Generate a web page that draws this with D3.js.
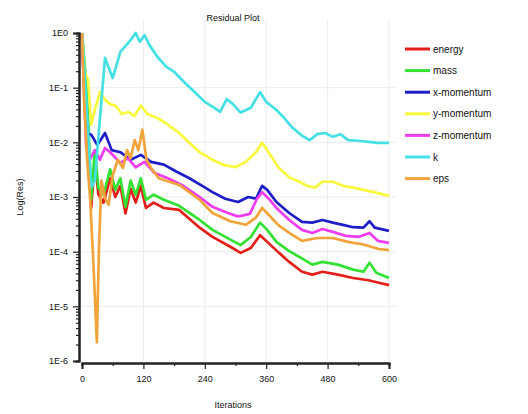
<!DOCTYPE html>
<html>
<head>
<meta charset="utf-8">
<script src="https://cdn.jsdelivr.net/npm/d3@7"></script>
<style>
  body { margin: 0; background: #fff; }
  text { font-family: "Liberation Sans", Arial, sans-serif; }
</style>
</head>
<body>
<svg id="canvas"></svg>
<script>
// residuals: [iteration, value]
let energy = [[0,1],[6,1e-1],[12,1e-2],[18,6.3e-4],[25,5e-3],[32,1.12e-3],[42,7.9e-4],[55,2.2e-3],[65,1e-3],[75,1.6e-3],[85,5e-4],[95,1.41e-3],[105,7.9e-4],[115,1.6e-3],[125,6.3e-4],[140,7.9e-4],[160,6.3e-4],[190,5.8e-4],[230,2.75e-4],[255,1.86e-4],[290,1.23e-4],[310,9.5e-5],[330,1.17e-4],[348,2e-4],[362,1.51e-4],[385,9.5e-5],[405,6.5e-5],[430,4.3e-5],[450,3.8e-5],[470,4.3e-5],[500,3.8e-5],[530,3.3e-5],[560,3e-5],[580,2.7e-5],[600,2.45e-5]]
let mass = [[0,1],[8,1.38e-1],[13,1.7e-2],[18,8.9e-4],[25,7.2e-3],[32,1.48e-3],[42,1.1e-3],[55,3.2e-3],[65,1.35e-3],[75,2.2e-3],[85,6.6e-4],[95,2e-3],[105,1.1e-3],[115,2.2e-3],[125,8.9e-4],[140,1.1e-3],[160,8.9e-4],[190,6.9e-4],[230,3.8e-4],[255,2.5e-4],[290,1.66e-4],[310,1.32e-4],[330,1.86e-4],[348,3.4e-4],[362,2.5e-4],[380,1.51e-4],[405,1.02e-4],[425,8e-5],[450,5.8e-5],[470,6.5e-5],[500,5.8e-5],[530,4.7e-5],[550,4.3e-5],[562,6.3e-5],[575,4.1e-5],[600,3.3e-5]]
let xMomentum = [[0,1],[5,6.3e-2],[10,1.48e-2],[18,1.38e-2],[30,8.9e-3],[45,1.48e-2],[58,7.2e-3],[75,6.6e-3],[95,4.8e-3],[115,5.9e-3],[135,4.4e-3],[160,3.9e-3],[185,2.9e-3],[210,2.2e-3],[235,1.6e-3],[255,1.23e-3],[280,9.3e-4],[305,8.1e-4],[325,1e-3],[340,9.3e-4],[352,1.6e-3],[362,1.35e-3],[380,8.1e-4],[405,5.1e-4],[430,3.5e-4],[450,3.4e-4],[470,3.8e-4],[490,3.4e-4],[510,3.1e-4],[530,2.8e-4],[550,2.75e-4],[562,3.6e-4],[572,2.75e-4],[600,2.4e-4]]
let yMomentum = [[0,1],[5,2e-1],[12,1.38e-1],[18,2.1e-2],[25,3.9e-2],[35,8.3e-2],[45,6e-2],[55,5e-2],[65,4.7e-2],[78,3.3e-2],[90,3.6e-2],[102,3e-2],[115,4.7e-2],[128,3.3e-2],[150,2.7e-2],[165,2.2e-2],[190,1.48e-2],[210,9.8e-3],[230,6.6e-3],[255,4.8e-3],[275,3.9e-3],[300,3.5e-3],[320,4.4e-3],[340,6.6e-3],[352,9.8e-3],[362,7.2e-3],[385,3.4e-3],[405,2.3e-3],[425,1.9e-3],[440,1.6e-3],[455,1.48e-3],[470,1.9e-3],[490,1.9e-3],[510,1.6e-3],[530,1.48e-3],[550,1.35e-3],[575,1.2e-3],[600,1.05e-3]]
let zMomentum = [[0,1],[8,8.9e-3],[15,4.8e-3],[25,7.2e-3],[35,4.8e-3],[45,7.9e-3],[55,6.6e-3],[75,4.2e-3],[90,5.1e-3],[105,3.5e-3],[122,4.4e-3],[142,2.75e-3],[168,2.2e-3],[195,1.66e-3],[230,1e-3],[255,6.6e-4],[285,5.1e-4],[305,4.4e-4],[328,4.9e-4],[342,9.3e-4],[352,1.23e-3],[365,9.3e-4],[380,6.3e-4],[405,3.8e-4],[430,2.5e-4],[450,2.2e-4],[470,2.6e-4],[490,2.3e-4],[515,1.95e-4],[540,1.86e-4],[562,2.2e-4],[578,1.58e-4],[600,1.45e-4]]
let k = [[0,1],[5,2e-1],[18,1.5e-3],[25,2e-3],[45,3.5e-1],[60,1.5e-1],[75,4.5e-1],[95,7.4e-1],[105,1],[113,6.9e-1],[122,9.1e-1],[132,6e-1],[148,3.6e-1],[165,2.4e-1],[180,1.95e-1],[200,1.26e-1],[220,8.3e-2],[240,5.5e-2],[258,4.3e-2],[270,3.6e-2],[283,6.2e-2],[295,5e-2],[310,3.5e-2],[330,4.3e-2],[348,8.3e-2],[360,5.5e-2],[380,3.9e-2],[395,2.8e-2],[410,1.9e-2],[430,1.32e-2],[445,1.1e-2],[460,1.41e-2],[475,1.48e-2],[490,1.26e-2],[505,1.41e-2],[520,1.1e-2],[540,1.07e-2],[560,1.02e-2],[580,9.8e-3],[600,9.8e-3]]
let eps = [[0,1],[4,6e-2],[10,4.8e-3],[16,8.9e-4],[22,7.1e-5],[29,2.2e-6],[33,1.07e-4],[38,2e-3],[45,9.5e-4],[52,7.2e-4],[60,2.5e-3],[70,4.8e-3],[80,3.4e-3],[88,7.2e-3],[95,5.1e-3],[103,1.1e-2],[110,7.2e-3],[118,1.7e-2],[126,4.8e-3],[135,3.4e-3],[150,2.2e-3],[190,1.66e-3],[230,8.9e-4],[255,5.1e-4],[290,3.6e-4],[320,3.1e-4],[340,4.2e-4],[352,6.3e-4],[368,4.4e-4],[385,3e-4],[405,2.2e-4],[430,1.58e-4],[460,1.78e-4],[490,1.78e-4],[520,1.51e-4],[550,1.35e-4],[580,1.12e-4],[600,1.07e-4]]

let seriesNames = ['energy', 'mass', 'x-momentum', 'y-momentum', 'z-momentum', 'k', 'eps']
let seriesData = [energy, mass, xMomentum, yMomentum, zMomentum, k, eps]
let seriesColors = ['#e41f1a', '#33e133', '#1e1ec8', '#f8f83c', '#f03cf0', '#44e0e4', '#f2a43a']

let xTicks = [0, 120, 240, 360, 480, 600]
let xMinorTicks = [60, 180, 300, 420, 540]
let yTicks = [1, 1e-1, 1e-2, 1e-3, 1e-4, 1e-5, 1e-6]
let yTickLabels = ['1E0', '1E-1', '1E-2', '1E-3', '1E-4', '1E-5', '1E-6']

let width = 528
let height = 414

let canvas = d3.select('#canvas')
               .attr('width', width)
               .attr('height', height)

let xScale = d3.scaleLinear()
               .domain([0, 600])
               .range([82, 389])

let yScale = d3.scaleLog()
               .domain([1e-6, 1])
               .range([361, 33])

// faint grid
canvas.append('g')
      .selectAll('line')
      .data(xTicks.slice(1))
      .enter()
      .append('line')
      .attr('x1', (d) => xScale(d))
      .attr('x2', (d) => xScale(d))
      .attr('y1', 20)
      .attr('y2', 361)
      .attr('stroke', '#ececec')

canvas.append('g')
      .selectAll('line')
      .data(yTicks.slice(1, -1))
      .enter()
      .append('line')
      .attr('x1', 82)
      .attr('x2', 396)
      .attr('y1', (d) => yScale(d))
      .attr('y2', (d) => yScale(d))
      .attr('stroke', '#ececec')

let line = d3.line()
             .x((d) => xScale(d[0]))
             .y((d) => yScale(d[1]))

canvas.append('g')
      .selectAll('path')
      .data(seriesData)
      .enter()
      .append('path')
      .attr('d', line)
      .attr('fill', 'none')
      .attr('stroke', (d, i) => seriesColors[i])
      .attr('stroke-width', 2.7)
      .attr('stroke-linejoin', 'round')

// axes
let minorY = []
for (let e = -6; e < 0; e++) {
  for (let m = 2; m <= 9; m++) minorY.push(m * Math.pow(10, e))
}

let yAxis = d3.axisLeft(yScale)
              .tickValues(yTicks)
              .tickSize(6)
              .tickPadding(5)
              .tickFormat((d, i) => yTickLabels[i])

let yMinor = d3.axisLeft(yScale)
               .tickValues(minorY)
               .tickSize(3)
               .tickFormat('')

let xAxis = d3.axisBottom(xScale)
              .tickValues(xTicks)
              .tickSize(6)
              .tickPadding(7)
              .tickFormat(d3.format('d'))

let xMinor = d3.axisBottom(xScale)
               .tickValues(xMinorTicks)
               .tickSize(3)
               .tickFormat('')

canvas.append('g')
      .attr('transform', 'translate(79, 0)')
      .call(yMinor)

canvas.append('g')
      .attr('id', 'y-axis')
      .attr('transform', 'translate(79, 0)')
      .call(yAxis)

canvas.append('g')
      .attr('transform', 'translate(0, 363)')
      .call(xMinor)

canvas.append('g')
      .attr('id', 'x-axis')
      .attr('transform', 'translate(0, 363)')
      .call(xAxis)

canvas.selectAll('.domain')
      .attr('stroke', '#222')
      .attr('stroke-width', 2)
canvas.selectAll('.tick line')
      .attr('stroke', '#222')
      .attr('stroke-width', 1.2)
canvas.selectAll('.tick text')
      .attr('font-size', 9)
      .attr('fill', '#111')
      .style('font-family', '"Liberation Sans", Arial, sans-serif')

// titles
canvas.append('text')
      .attr('x', 233)
      .attr('y', 21)
      .attr('text-anchor', 'middle')
      .attr('font-size', 9)
      .attr('fill', '#111')
      .text('Residual Plot')

canvas.append('text')
      .attr('x', 233)
      .attr('y', 408)
      .attr('text-anchor', 'middle')
      .attr('font-size', 9)
      .attr('fill', '#111')
      .text('Iterations')

canvas.append('text')
      .attr('transform', 'translate(23, 197) rotate(-90)')
      .attr('text-anchor', 'middle')
      .attr('font-size', 9)
      .attr('fill', '#111')
      .text('Log(Res)')

// legend
let legend = canvas.append('g')
                   .selectAll('g')
                   .data(seriesNames)
                   .enter()
                   .append('g')
                   .attr('transform', (d, i) => `translate(405, ${49 + i * 21.6})`)

legend.append('line')
      .attr('x1', 0)
      .attr('x2', 25)
      .attr('stroke', (d, i) => seriesColors[i])
      .attr('stroke-width', 3)

legend.append('text')
      .attr('x', 28)
      .attr('y', 3.5)
      .attr('font-size', 10)
      .attr('fill', '#111')
      .text((d) => d)
</script>
</body>
</html>
